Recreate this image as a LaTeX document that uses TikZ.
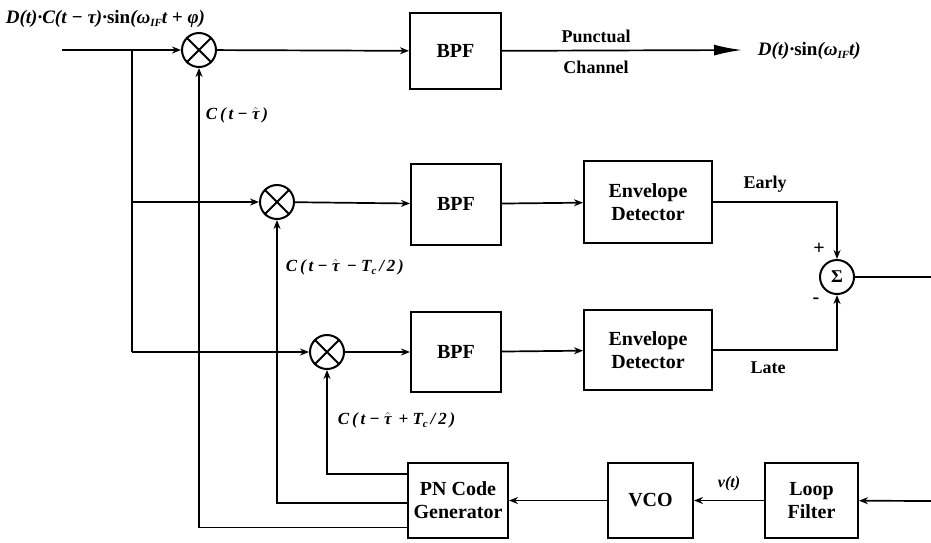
\documentclass[tikz,border=0pt]{standalone}
\usepackage{fontspec}
\setmainfont{Liberation Serif}
\usetikzlibrary{arrows.meta,calc}
\newcommand\lsub[1]{\raisebox{-0.35ex}{\fontsize{11}{11}\selectfont #1}}
\newcommand\that{$\hat{\hbox{\textit{τ}}}$}
\begin{document}
\begin{tikzpicture}[x=1pt,y=-1pt,line width=1.7pt,
  blk/.style={draw,line width=2pt,font=\fontsize{20}{23}\selectfont\bfseries,align=center,inner sep=0pt},
  mult/.style={draw,circle,minimum size=34pt,inner sep=0pt,line width=2pt},
  lab/.style={font=\fontsize{18}{20}\selectfont\bfseries},
  eq/.style={font=\fontsize{19}{21}\selectfont\bfseries\itshape,inner sep=0pt},
  ceq/.style={font=\fontsize{17}{19}\selectfont\bfseries\itshape,inner sep=0pt},
  arr/.style={-{Stealth[length=9pt,width=7pt]}}]
\useasboundingbox (0,0) rectangle (931,542);
% multipliers and summer
\node[mult] (m1) at (199,50) {};
\node[mult] (m2) at (277,202) {};
\node[mult] (m3) at (327,352) {};
\foreach \m in {m1,m2,m3} \draw[line width=2pt] (\m.45)--(\m.225) (\m.135)--(\m.315);
\node[mult,font=\fontsize{18}{18}\selectfont\bfseries] (sig) at (837,277) {Σ};
% blocks
\node[blk,minimum width=91pt,minimum height=76pt] (bpf1) at (455.5,51) {BPF};
\node[blk,minimum width=90pt,minimum height=81pt] (bpf2) at (456,204) {BPF};
\node[blk,minimum width=90pt,minimum height=80pt] (bpf3) at (456,352) {BPF};
\node[blk,minimum width=128pt,minimum height=82pt] (ed1) at (648,202) {Envelope\\Detector};
\node[blk,minimum width=128pt,minimum height=80pt] (ed2) at (648,350) {Envelope\\Detector};
\node[blk,minimum width=100pt,minimum height=75pt] (pn) at (458,500.5) {PN Code\\Generator};
\node[blk,minimum width=85pt,minimum height=75pt] (vco) at (650.5,500.5) {VCO};
\node[blk,minimum width=93pt,minimum height=75pt] (loop) at (811.5,500.5) {Loop\\Filter};
% coordinates
\coordinate (in) at (62,50);
\coordinate (j1) at (132,50);
\coordinate (j2) at (132,202);
\coordinate (j3) at (132,352);
\coordinate (out) at (742,50);
\coordinate (so) at (931,277);
\coordinate (li) at (931,501);
% connectors
\draw[arr] (in) -- (m1);
\draw (j1) -- (j3);
\draw[arr] (j2) -- (m2);
\draw[arr] (j3) -- (m3);
\draw[arr] (m1) -- (bpf1);
\draw[arr] (m2) -- (bpf2);
\draw[arr] (m3) -- (bpf3);
\draw[-{Latex[length=28pt,width=11pt]}] (bpf1) -- (out);
\draw[arr] (bpf2) -- (ed1);
\draw[arr] (bpf3) -- (ed2);
\draw[arr] (ed1.east) -| (sig.north);
\draw[arr] (ed2.east) -| (sig.south);
\draw (sig) -- (so);
\draw[arr] (li) -- (loop);
\draw[arr] (loop) -- (vco);
\draw[arr] (vco) -- (pn);
\draw[arr] ($(pn.north west)!0.16!(pn.south west)$) -| (m3.south);
\draw[arr] ($(pn.north west)!0.53!(pn.south west)$) -| (m2.south);
\draw[arr] ($(pn.north west)!0.85!(pn.south west)$) -| (m1.south);
% labels
\node[eq,anchor=west] (tin) at (5,19) {D(t)·C(t − τ)·\textup{sin}(ω\lsub{IF}t + φ)};
\node[eq,anchor=west] (tout) at (757,51) {D(t)·\textup{sin}(ω\lsub{IF}t)};
\node[lab] (pu) at (596,36) {Punctual};
\node[lab] (ch) at (596,67) {Channel};
\node[lab] (ea) at (765,184) {Early};
\node[lab] (la) at (768,368) {Late};
\node[lab,font=\fontsize{20}{20}\selectfont\bfseries] (pl) at (819,249) {+};
\node[lab,font=\fontsize{20}{20}\selectfont\bfseries] (mi) at (816,301) {-};
\node[ceq,anchor=west] (c1) at (205,115) {C\,(\,t − \that\,)};
\node[ceq,anchor=west] (c2) at (285,267) {C\,(\,t − \that\, − T\lsub{c}\,/\,2\,)};
\node[ceq,anchor=west] (c3) at (337,420) {C\,(\,t − \that\, + T\lsub{c}\,/\,2\,)};
\node[eq,font=\fontsize{16}{18}\selectfont\bfseries\itshape] (vt) at (729,484) {v(t)};
\end{tikzpicture}
\end{document}
